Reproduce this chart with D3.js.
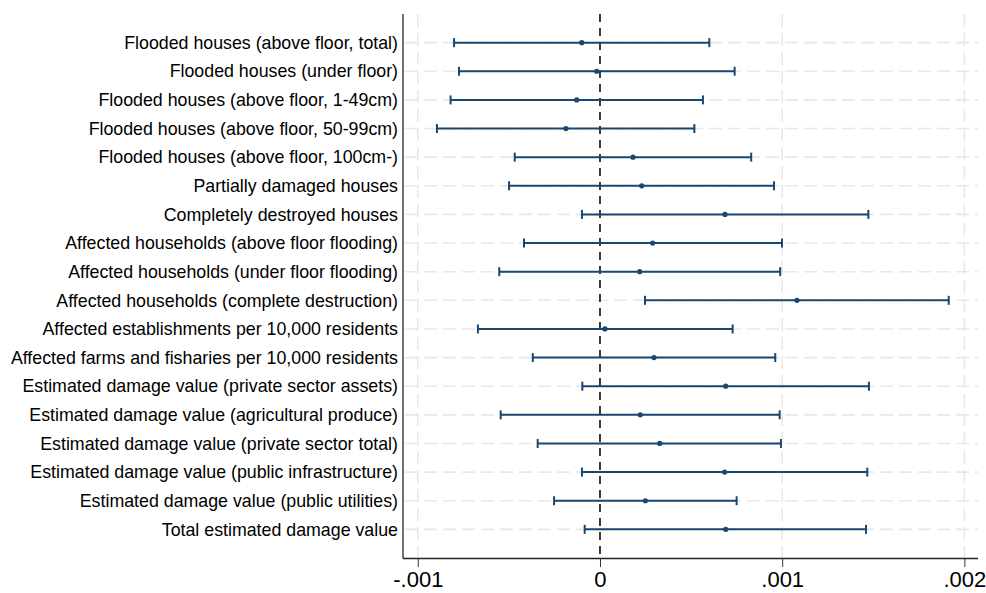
<!DOCTYPE html>
<html>
<head>
<meta charset="utf-8">
<script src="https://cdn.jsdelivr.net/npm/d3@7"></script>
<style>
  html, body { margin: 0; padding: 0; background: #fff; }
  svg { display: block; }
  text { font-family: "Liberation Sans", Arial, sans-serif; }
</style>
</head>
<body>
<svg id="chart" width="986" height="593"></svg>
<script>
// Outcome labels, top to bottom
const outcomes = [
  "Flooded houses (above floor, total)",
  "Flooded houses (under floor)",
  "Flooded houses (above floor, 1-49cm)",
  "Flooded houses (above floor, 50-99cm)",
  "Flooded houses (above floor, 100cm-)",
  "Partially damaged houses",
  "Completely destroyed houses ",
  "Affected households (above floor flooding)",
  "Affected households (under floor flooding)",
  "Affected households (complete destruction)",
  "Affected establishments per 10,000 residents",
  "Affected farms and fisharies per 10,000 residents",
  "Estimated damage value (private sector assets)",
  "Estimated damage value (agricultural produce)",
  "Estimated damage value (private sector total)",
  "Estimated damage value (public infrastructure)",
  "Estimated damage value (public utilities)",
  "Total estimated damage value"
];

// Point estimates
const estimates = [
  -0.000100, -0.000018, -0.000128, -0.000187, 0.000181, 0.000229,
   0.000686,  0.000289,  0.000218,  0.001081, 0.000027, 0.000296,
   0.000690,  0.000221,  0.000328,  0.000684, 0.000249, 0.000690
];

// Lower bounds of the confidence intervals
const ciLow = [
  -0.000801, -0.000774, -0.000820, -0.000895, -0.000468, -0.000499,
  -0.000099, -0.000417, -0.000553,  0.000247, -0.000670, -0.000369,
  -0.000097, -0.000545, -0.000342, -0.000099, -0.000252, -0.000084
];

// Upper bounds of the confidence intervals
const ciHigh = [
  0.000600, 0.000739, 0.000565, 0.000518, 0.000830, 0.000955,
  0.001473, 0.000999, 0.000989, 0.001914, 0.000728, 0.000962,
  0.001476, 0.000986, 0.000993, 0.001467, 0.000750, 0.001460
];

// x-axis ticks and their printed labels
const xTicks = [-0.001, 0, 0.001, 0.002];
const xTickLabels = ["-.001", "0", ".001", ".002"];

const rows = outcomes.map((name, i) => ({
  name, est: estimates[i], lo: ciLow[i], hi: ciHigh[i]
}));

const svg = d3.select("#chart");
const plot = { left: 403, right: 978, top: 14, bottom: 558 };
const navy = "#1a476f";

const x = d3.scaleLinear()
  .domain([-0.0010812, 0.0020747])
  .range([plot.left, plot.right]);

const y = d3.scalePoint()
  .domain(outcomes)
  .range([plot.top, plot.bottom])
  .padding(1);

// Grid lines
const grid = svg.append("g")
  .attr("stroke", "#e8e8e8")
  .attr("stroke-width", 1.6)
  .attr("stroke-dasharray", "13,6");

grid.selectAll("line.h")
  .data(outcomes)
  .join("line")
  .attr("class", "h")
  .attr("x1", plot.left + 2)
  .attr("x2", plot.right)
  .attr("y1", d => y(d))
  .attr("y2", d => y(d));

grid.selectAll("line.v")
  .data(xTicks.filter(t => t !== 0))
  .join("line")
  .attr("class", "v")
  .attr("x1", d => x(d))
  .attr("x2", d => x(d))
  .attr("y1", plot.top)
  .attr("y2", plot.bottom);

// Zero reference line
svg.append("line")
  .attr("x1", x(0)).attr("x2", x(0))
  .attr("y1", plot.top).attr("y2", plot.bottom)
  .attr("stroke", "#1a1a1a")
  .attr("stroke-width", 1.7)
  .attr("stroke-dasharray", "8,6");

// Confidence intervals
const ci = svg.append("g").attr("stroke", navy).attr("stroke-width", 2);
ci.selectAll("line.bar")
  .data(rows)
  .join("line")
  .attr("class", "bar")
  .attr("x1", d => x(d.lo))
  .attr("x2", d => x(d.hi))
  .attr("y1", d => y(d.name))
  .attr("y2", d => y(d.name));

const capHalf = 4.5;
ci.selectAll("line.capL")
  .data(rows)
  .join("line")
  .attr("class", "capL")
  .attr("x1", d => x(d.lo)).attr("x2", d => x(d.lo))
  .attr("y1", d => y(d.name) - capHalf)
  .attr("y2", d => y(d.name) + capHalf);

ci.selectAll("line.capH")
  .data(rows)
  .join("line")
  .attr("class", "capH")
  .attr("x1", d => x(d.hi)).attr("x2", d => x(d.hi))
  .attr("y1", d => y(d.name) - capHalf)
  .attr("y2", d => y(d.name) + capHalf);

// Point estimates
svg.append("g")
  .selectAll("circle")
  .data(rows)
  .join("circle")
  .attr("cx", d => x(d.est))
  .attr("cy", d => y(d.name))
  .attr("r", 2.6)
  .attr("fill", navy);

// Y axis: labels only, no tick marks
const yAxis = svg.append("g")
  .attr("transform", `translate(${plot.left},0)`)
  .call(d3.axisLeft(y).tickSize(0).tickPadding(5));
yAxis.select(".domain").remove();
yAxis.selectAll("text")
  .attr("font-size", 17.8)
  .attr("fill", "#000")
  .style("font-family", "'Liberation Sans', Arial, sans-serif");

svg.append("line")
  .attr("x1", plot.left).attr("x2", plot.left)
  .attr("y1", plot.top).attr("y2", plot.bottom + 0.5)
  .attr("stroke", "#222").attr("stroke-width", 1.3);

// X axis
const xAxis = svg.append("g")
  .attr("transform", `translate(0,${plot.bottom})`)
  .call(d3.axisBottom(x)
    .tickValues(xTicks)
    .tickFormat((d, i) => xTickLabels[i])
    .tickSize(9)
    .tickSizeOuter(0)
    .tickPadding(4));
xAxis.select(".domain")
  .attr("stroke", "#222").attr("stroke-width", 1.3)
  .attr("d", `M${plot.left},0.5H${plot.right}`);
xAxis.selectAll(".tick line").attr("stroke", "#333");
xAxis.selectAll("text")
  .attr("font-size", 22)
  .attr("fill", "#000")
  .style("font-family", "'Liberation Sans', Arial, sans-serif");
</script>
</body>
</html>
